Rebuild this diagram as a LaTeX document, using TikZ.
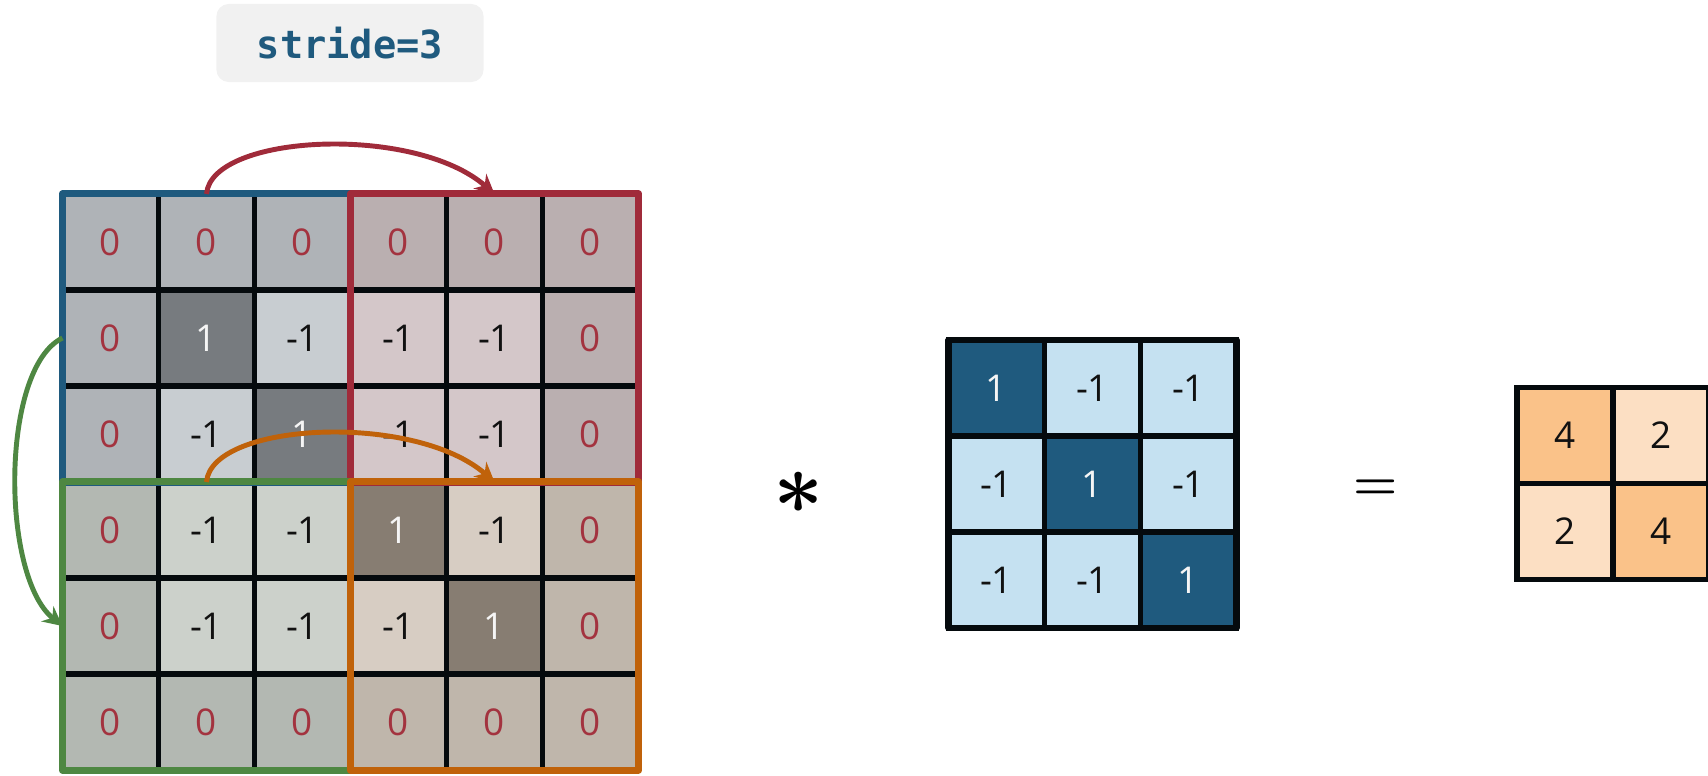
\documentclass[tikz,border=0pt]{standalone}
\usepackage{fontspec}
\setmainfont{Open Sans}
\newfontfamily\codefont{DejaVu Sans Mono}
\usepackage{xcolor}
\usetikzlibrary{arrows.meta,positioning}

% cell fills: block A (top left), B (top right), C (bottom left), D (bottom right)
\definecolor{cellA0}{HTML}{AFB3B7}
\definecolor{cellA1}{HTML}{777B7F}
\definecolor{cellAm}{HTML}{C8CDD1}
\definecolor{cellB0}{HTML}{BAAFB0}
\definecolor{cellB1}{HTML}{7F7475}
\definecolor{cellBm}{HTML}{D4C7C9}
\definecolor{cellC0}{HTML}{B3B8B2}
\definecolor{cellC1}{HTML}{7A7F79}
\definecolor{cellCm}{HTML}{CCD1CB}
\definecolor{cellD0}{HTML}{BFB6AB}
\definecolor{cellD1}{HTML}{877D72}
\definecolor{cellDm}{HTML}{D7CDC3}
\definecolor{text0}{HTML}{A3333F}
\definecolor{text1}{HTML}{F5F5F5}
\definecolor{textm}{HTML}{111111}
\definecolor{gridline}{HTML}{050A0D}
\definecolor{frameblue}{HTML}{1F5A7E}
\definecolor{framered}{HTML}{A02B3A}
\definecolor{framegreen}{HTML}{4E8742}
\definecolor{frameorange}{HTML}{C0620A}
\definecolor{kerneldark}{HTML}{1F5A7E}
\definecolor{kernellight}{HTML}{C5E1F1}
\definecolor{outdark}{HTML}{FAC289}
\definecolor{outlight}{HTML}{FCDFC3}
\definecolor{titlegray}{HTML}{F1F1F1}

\begin{document}
\boldmath
\begin{tikzpicture}[x=0.01cm, y=-0.01cm, >={Stealth[length=5.5pt, width=5.5pt]}]

\tikzstyle{cell}=[
    draw=gridline,
    line width=1.5pt,
    minimum size=0.96cm,
    inner sep=0pt,
    outer sep=0pt,
    font=\fontsize{10.5}{12}\selectfont
]
\tikzstyle{frame}=[line width=2pt, line join=round]
\tikzstyle{hop}=[line width=1.4pt, ->]

\useasboundingbox (0,0) rectangle (1708,775);

% title
\node[fill=titlegray, rounded corners=3.5pt, minimum width=2.67cm, minimum height=0.78cm,
      text=frameblue, font=\codefont\bfseries\fontsize{11}{13}\selectfont] (Title) at (350,43) {stride=3};

% padded input
\foreach \row [count=\r from 0] in {{0,0,0,0,0,0},{0,1,-1,-1,-1,0},{0,-1,1,-1,-1,0},{0,-1,-1,1,-1,0},{0,-1,-1,-1,1,0},{0,0,0,0,0,0}}
  \foreach \v [count=\c from 0] in \row {
    \pgfmathtruncatemacro\b{2*(\r>2)+(\c>2)}
    \ifcase\b \def\blk{A}\or\def\blk{B}\or\def\blk{C}\or\def\blk{D}\fi
    \ifnum\v=0 \def\tone{0}\else\ifnum\v=1 \def\tone{1}\else\def\tone{m}\fi\fi
    \node[cell, fill=cell\blk\tone, text=text\tone] (I_\r_\c) at (110.5+96*\c, 242+96*\r) {\v};
  }

% stride windows
\draw[frame, frameblue] (I_0_0.north west) rectangle (I_2_2.south east);
\draw[frame, framered] (I_0_3.north west) rectangle (I_2_5.south east);
\draw[frame, framegreen] (I_3_0.north west) rectangle (I_5_2.south east);
\draw[frame, frameorange] (I_3_3.north west) rectangle (I_5_5.south east);

% hops of the window
\draw[hop, framered] (I_0_1.north) .. controls +(5,-60) and +(-80,-70) .. (I_0_4.north);
\draw[hop, frameorange] (I_3_1.north) .. controls +(5,-60) and +(-80,-70) .. (I_3_4.north);
\draw[hop, framegreen] (I_1_0.west) .. controls +(-62,30) and +(-62,-50) .. (I_4_0.west);

% operator
\node[anchor=base] (Star) at (799,513) {\fontsize{27}{27}\selectfont$\ast$};

% kernel
\foreach \r in {0,1,2}
  \foreach \c in {0,1,2} {
    \ifnum\r=\c
      \node[cell, fill=kerneldark, text=text1] (K_\r_\c) at (996.5+96*\c, 388+96*\r) {1};
    \else
      \node[cell, fill=kernellight, text=textm] (K_\r_\c) at (996.5+96*\c, 388+96*\r) {-1};
    \fi
  }
\draw[line width=1.8pt, gridline, line join=round] (K_0_0.north west) rectangle (K_2_2.south east);

\node[anchor=base] (Eq) at (1376,499) {\fontsize{14}{14}\selectfont$=$};

% result
\node[cell, fill=outdark, text=textm] (O_0_0) at (1565,435.5) {4};
\node[cell, fill=outlight, text=textm] (O_0_1) [right=0pt of O_0_0] {2};
\node[cell, fill=outlight, text=textm] (O_1_0) [below=0pt of O_0_0] {2};
\node[cell, fill=outdark, text=textm] (O_1_1) [right=0pt of O_1_0] {4};

\end{tikzpicture}
\end{document}
